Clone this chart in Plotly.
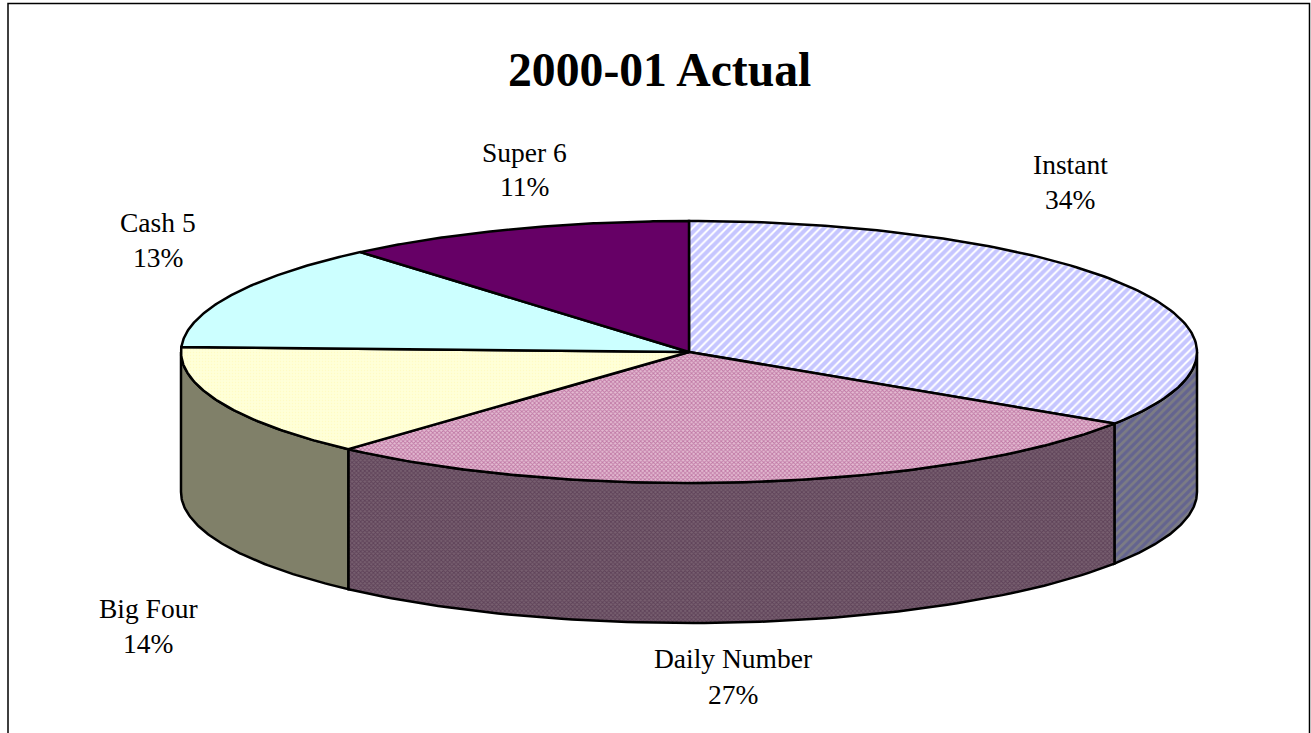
import numpy as np
import plotly.graph_objects as go

title = "2000-01 Actual"
categories = ["Instant", "Daily Number", "Big Four", "Cash 5", "Super 6"]
values = [34.2, 27.5, 13.9, 13.2, 11.2]
percent_labels = ["34%", "27%", "14%", "13%", "11%"]

top_styles = [
    dict(fillcolor="#ffffff", fillpattern=dict(shape="/", size=6, solidity=0.68, fgcolor="#8e8eff", bgcolor="#ffffff")),
    dict(fillcolor="#cc99bb", fillpattern=dict(shape="x", size=3, solidity=0.5, fgcolor="#9a3478", bgcolor="#e4bcd2")),
    dict(fillcolor="#ffffcc", fillpattern=dict(shape=".", size=3, solidity=0.2, fgcolor="#fff7b0", bgcolor="#ffffd8")),
    dict(fillcolor="#ccffff"),
    dict(fillcolor="#660066"),
]
side_styles = [
    dict(fillcolor="#666699", fillpattern=dict(shape="/", size=6, solidity=0.55, fgcolor="#4c4c99", bgcolor="#7c7c84")),
    dict(fillcolor="#66485c", fillpattern=dict(shape="x", size=3, solidity=0.5, fgcolor="#442440", bgcolor="#786070")),
    dict(fillcolor="#808069"),
    None,
    None,
]
label_pos = [(1070, 164.5), (733, 658.5), (148, 608.5), (158, 222.5), (524.5, 152.5)]
label_gap = [35, 36, 35, 35, 33.5]

CX, CY, RX, RY, DEPTH = 689, 352, 508, 131, 140


def ellipse(deg, dy=0.0):
    t = np.radians(deg)
    return CX + RX * np.sin(t), CY + dy - RY * np.cos(t)


edges = np.concatenate([[0], np.cumsum(values)]) / np.sum(values) * 360
fig = go.Figure()
line = dict(color="black", width=2.5)

# front walls of the disc
for i, st in enumerate(side_styles):
    lo, hi = max(edges[i], 90), min(edges[i + 1], 270)
    if st is None or lo >= hi:
        continue
    a = np.linspace(lo, hi, 80)
    x0, y0 = ellipse(a)
    x1, y1 = ellipse(a[::-1], DEPTH)
    fig.add_trace(go.Scatter(x=np.r_[x0, x1, x0[0]], y=np.r_[y0, y1, y0[0]], mode="lines",
                             fill="toself", line=line, hoverinfo="skip", **st))

# top faces
for i, st in enumerate(top_styles):
    a = np.linspace(edges[i], edges[i + 1], 120)
    x, y = ellipse(a)
    fig.add_trace(go.Scatter(x=np.r_[CX, x, CX], y=np.r_[CY, y, CY], mode="lines",
                             fill="toself", line=line, name=categories[i],
                             hovertemplate=f"{categories[i]}: {percent_labels[i]}<extra></extra>", **st))

font = dict(family="Liberation Serif", size=27.5, color="black")
ann = [dict(x=659, y=69, text=f"<b>{title}</b>", showarrow=False, xref="x", yref="y",
            font=dict(family="Liberation Serif", size=47.7, color="black"))]
for name, pct, (x, y), g in zip(categories, percent_labels, label_pos, label_gap):
    ann.append(dict(x=x, y=y, text=name, showarrow=False, xref="x", yref="y", font=font))
    ann.append(dict(x=x, y=y + g, text=pct, showarrow=False, xref="x", yref="y", font=font))

fig.update_layout(
    width=1311, height=733, margin=dict(l=0, r=0, t=0, b=0), showlegend=False,
    paper_bgcolor="white", plot_bgcolor="white",
    xaxis=dict(range=[0, 1311], visible=False, fixedrange=True),
    yaxis=dict(range=[733, 0], visible=False, fixedrange=True),
    annotations=ann,
    shapes=[dict(type="rect", xref="x", yref="y", x0=8, y0=3.5, x1=1309.5, y1=745,
                 line=dict(color="black", width=1.5), layer="below")],
)
fig.write_html("out.html", config=dict(displayModeBar=False),
               post_script="document.body.style.margin='0';document.documentElement.style.overflow='hidden';")
